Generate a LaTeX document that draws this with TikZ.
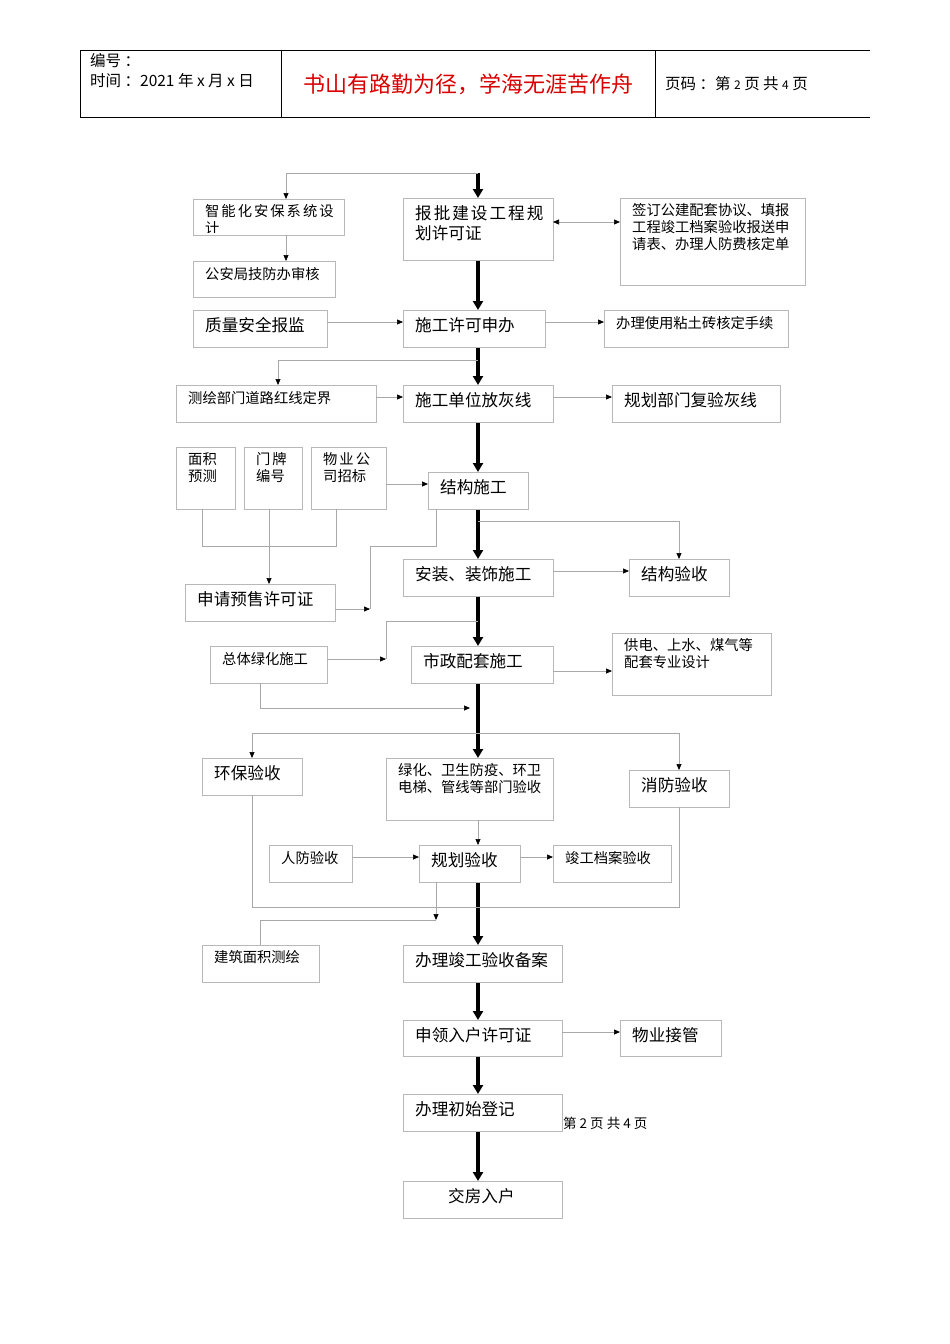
\documentclass[tikz,border=0pt]{standalone}
\usepackage{fontspec}
\setmainfont{Noto Sans CJK SC}
\usetikzlibrary{arrows.meta}
\definecolor{bx}{HTML}{B8B8B8}
\definecolor{ln}{HTML}{A8A8A8}
\newcommand{\g}{\hspace{2pt}}
\tikzset{
  box/.style={draw=bx,line width=0.8pt,anchor=north west,inner sep=0pt},
  big/.style={font=\fontsize{16.6}{20}\selectfont},
  sml/.style={font=\fontsize{14.3}{17}\selectfont},
  spine/.style={line width=4pt,-{Triangle[length=9pt,width=10pt]}},
  thin/.style={draw=ln,line width=0.7pt,-{Triangle[length=6pt,width=5pt,color=black]}},
  plain/.style={draw=ln,line width=0.7pt},
}
\newcommand{\bxx}[9]{%
  \node[box,minimum width=#4pt-#2pt,minimum height=#5pt-#3pt] (#1) at (#2,#3) {};
  \node[anchor=north west,inner sep=0pt,align=left,#6] (#1t) at (#2+#8,#3+#9) {#7};
}
\begin{document}
\begin{tikzpicture}[x=1pt,y=-1pt]
\useasboundingbox (0,0) rectangle (950,1344);
% header
\draw[line width=0.6pt] (80,50) -- (870,50) (80,117) -- (870,117);
\draw[line width=0.6pt] (80,50) -- (80,117) (281,50) -- (281,117) (655,50) -- (655,117);
\node[anchor=west,inner sep=0pt,font=\fontsize{15.5}{18}\selectfont] (h1) at (90,61) {编号 ：};
\node[anchor=west,inner sep=0pt,font=\fontsize{15.5}{18}\selectfont] (h2) at (90,81) {时间 ：2021 年 x 月 x 日};
\node[inner sep=0pt,text=red!85!black,font=\fontsize{22}{24}\selectfont] (h3) at (468,84) {书山有路勤为径，学海无涯苦作舟};
\node[anchor=west,inner sep=0pt,font=\fontsize{15.5}{18}\selectfont] (h4) at (665,84) {页码 ：第 {\fontsize{12}{14}\selectfont 2} 页 共 {\fontsize{12}{14}\selectfont 4} 页};

% boxes
\begin{scope}
\clip (193,199) rectangle (344,232);
\bxx{A}{193}{199}{344}{235}{sml}{智\g 能\g 化\g 安\g 保\g 系\g 统\g 设\\计}{12}{5}
\end{scope}
\draw[bx,line width=0.8pt] (193,199) rectangle (344,235);
\bxx{B}{193}{261}{335}{297}{sml}{公安局技防办审核}{12}{6}
\bxx{C}{403}{198}{553}{260}{big}{报\g 批\g 建\g 设\g 工\g 程\g 规\\划许可证}{12}{7}
\bxx{D}{620}{198}{805}{285}{sml}{签订公建配套协议、填报\\工程竣工档案验收报送申\\请表、办理人防费核定单}{12}{5}
\bxx{E}{193}{310}{327}{347}{big}{质量安全报监}{12}{7}
\bxx{F}{403}{310}{545}{347}{big}{施工许可申办}{12}{7}
\bxx{G}{604}{310}{788}{347}{sml}{办理使用粘土砖核定手续}{12}{6}
\bxx{H}{176}{385}{376}{422}{sml}{测绘部门道路红线定界}{12}{6}
\bxx{I}{403}{385}{553}{422}{big}{施工单位放灰线}{12}{7}
\bxx{J}{612}{385}{780}{422}{big}{规划部门复验灰线}{12}{7}
\bxx{K}{176}{447}{235}{509}{sml}{面积\\预测}{12}{5}
\bxx{L}{244}{447}{302}{509}{sml}{门\g 牌\\编号}{12}{5}
\bxx{M}{311}{447}{386}{509}{sml}{物\g 业\g 公\\司招标}{12}{5}
\bxx{N}{428}{472}{528}{509}{big}{结构施工}{12}{7}
\bxx{O}{403}{559}{553}{596}{big}{安装、装饰施工}{12}{7}
\bxx{P}{629}{559}{729}{596}{big}{结构验收}{12}{7}
\bxx{Q}{185}{584}{335}{621}{big}{申请预售许可证}{12}{7}
\bxx{R}{210}{646}{327}{683}{sml}{总体绿化施工}{12}{6}
\bxx{S}{411}{646}{553}{683}{big}{市政配套施工}{12}{7}
\bxx{T}{612}{633}{771}{695}{sml}{供电、上水、煤气等\\配套专业设计}{12}{5}
\bxx{U}{202}{758}{302}{795}{big}{环保验收}{12}{7}
\bxx{V}{386}{758}{553}{820}{sml}{绿化、卫生防疫、环卫\\电梯、管线等部门验收}{12}{5}
\bxx{W}{629}{770}{729}{807}{big}{消防验收}{12}{7}
\bxx{X}{269}{845}{352}{882}{sml}{人防验收}{12}{6}
\bxx{Y}{419}{845}{520}{882}{big}{规划验收}{12}{7}
\bxx{Z}{553}{845}{671}{882}{sml}{竣工档案验收}{12}{6}
\bxx{AA}{202}{945}{319}{982}{sml}{建筑面积测绘}{12}{5}
\bxx{AB}{403}{945}{562}{982}{big}{办理竣工验收备案}{12}{7}
\bxx{AC}{403}{1020}{562}{1056}{big}{申领入户许可证}{12}{7}
\bxx{AD}{620}{1020}{721}{1056}{big}{物业接管}{12}{7}
\bxx{AE}{403}{1094}{562}{1131}{big}{办理初始登记}{12}{7}
\bxx{AF}{403}{1181}{562}{1218}{big}{交房入户}{45}{7}
\node[anchor=west,inner sep=0pt,font=\fontsize{13.5}{15}\selectfont] (ft) at (563,1123) {第 2 页 共 4 页};

% spine
\coordinate (s0) at (478,173);
\draw[spine] (s0) -- (C.north -| s0);
\draw[spine] (C.south -| s0) -- (F.north -| s0);
\draw[spine] (F.south -| s0) -- (I.north -| s0);
\draw[spine] (I.south -| s0) -- (N.north -| s0);
\draw[spine] (N.south -| s0) -- (O.north -| s0);
\draw[spine] (O.south -| s0) -- (S.north -| s0);
\draw[spine] (S.south -| s0) -- (V.north -| s0);
\draw[spine] (Y.south -| s0) -- (AB.north -| s0);
\draw[spine] (AB.south -| s0) -- (AC.north -| s0);
\draw[spine] (AC.south -| s0) -- (AE.north -| s0);
\draw[spine] (AE.south -| s0) -- (AF.north -| s0);

% thin connectors
\draw[thin] (s0) -- (286,173) -- (286,199);
\draw[thin] (286,235) -- (286,261);
\draw[thin,{Triangle[length=6pt,width=5pt,color=black]}-{Triangle[length=6pt,width=5pt,color=black]}] (553,222) -- (620,222);
\draw[thin] (327,322) -- (403,322);
\draw[thin] (545,322) -- (604,322);
\draw[thin] (478,360) -- (278,360) -- (278,385);
\draw[thin] (376,397) -- (403,397);
\draw[thin] (553,397) -- (612,397);
\draw[thin] (386,484) -- (428,484);
\draw[plain] (202,509) -- (202,546) -- (336,546) -- (336,509);
\draw[thin] (269,509) -- (269,584);
\draw[plain] (436,509) -- (436,546) -- (370,546) -- (370,609);
\draw[thin] (335,609) -- (370,609);
\draw[thin] (478,521) -- (679,521) -- (679,559);
\draw[thin] (553,571) -- (629,571);
\draw[plain] (478,621) -- (386,621) -- (386,659);
\draw[thin] (327,659) -- (386,659);
\draw[thin] (553,671) -- (612,671);
\draw[thin] (260,683) -- (260,708) -- (470,708);
\draw[thin] (478,733) -- (252,733) -- (252,758);
\draw[thin] (478,733) -- (679,733) -- (679,770);
\draw[thin] (478,820) -- (478,845);
\draw[thin] (352,857) -- (419,857);
\draw[thin] (520,857) -- (553,857);
\draw[plain] (252,795) -- (252,907) -- (679,907) -- (679,807);
\draw[thin] (436,882) -- (436,920);
\draw[plain] (260,945) -- (260,920) -- (436,920);
\draw[thin] (562,1032) -- (620,1032);
\end{tikzpicture}
\end{document}
